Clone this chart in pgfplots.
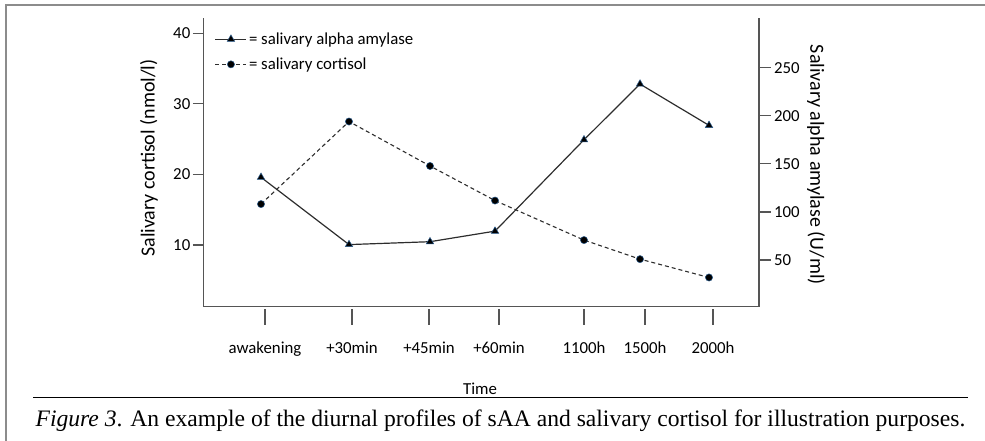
\documentclass[border=0pt]{standalone}
\usepackage{pgfplots}
\pgfplotsset{compat=1.18}
\usepackage{fontspec}
\setmainfont{Carlito}
\newfontfamily\capfont{Liberation Serif}
\definecolor{axisgray}{RGB}{85,85,85}
\definecolor{linegray}{RGB}{45,45,45}
\definecolor{markedge}{RGB}{40,90,140}
\definecolor{framegray}{RGB}{140,140,140}

% cortisol (nmol/l), left axis
\pgfplotstableread{
x   y
261 15.8
349 27.5
430 21.2
495 16.3
584 10.7
640 8.0
709 5.4
}\cortisol
% alpha amylase (U/ml), right axis
\pgfplotstableread{
x   y
261 136
349 66
430 69
495 80
584 175
640 233
709 190
}\amylase

\pgfplotsset{
  every axis/.append style={font=\fontsize{16.8}{19}\selectfont},
  amyl/.style={linegray, line width=1.2pt, mark=triangle*, mark size=4.3pt,
     mark options={solid, fill=black, draw=markedge, line width=0.5pt}},
  cort/.style={linegray, line width=1.1pt, dash pattern=on 4pt off 3pt, mark=*, mark size=3.6pt,
     mark options={solid, fill=black, draw=markedge, line width=0.5pt}},
}

\begin{document}
\begin{tikzpicture}[x=1pt,y=1pt]
\useasboundingbox (0,0) rectangle (985,441);
% frame
\draw[framegray, line width=1.5pt] (6,0) -- (6,436) -- (985,436);
% caption rule and caption
\draw[black, line width=1.4pt] (33,43.5) -- (968,43.5);
\node[anchor=center, font=\capfont\fontsize{23.6}{27}\selectfont] at (500.5,20) {{\itshape Figure 3}. An example of the diurnal profiles of sAA and salivary cortisol for illustration purposes.};

\begin{axis}[
  at={(203.3pt,134.3pt)}, anchor=south west,
  scale only axis, width=555.7pt, height=288.7pt,
  xmin=203.3, xmax=759, ymin=1.26, ymax=42.17,
  axis x line*=bottom, axis y line*=left,
  axis line style={-, axisgray, line width=1.3pt},
  tick align=outside, major tick length=10.5pt,
  tick style={axisgray, line width=1.2pt},
  x tick style={/pgfplots/major tick length=16pt, yshift=-2pt},
  xtick={265,352,429,499,584,645,713},
  xticklabels={awakening,+30min,+45min,+60min,1100h,1500h,2000h},
  xticklabel style={yshift=-21pt},
  ytick={10,20,30,40},
  /pgf/number format/assume math mode=true,
  yticklabel style={xshift=1pt},
  xlabel={Time},
  xlabel style={at={(axis description cs:0.498,-0.286)}, anchor=center},
  ylabel={Salivary cortisol (nmol/l)},
  ylabel style={at={(axis description cs:-0.0977,0.515)}, anchor=center, rotate=0, font=\fontsize{20}{23}\selectfont},
]
\addplot[cort] table[x=x,y=y] {\cortisol};
\end{axis}

\begin{axis}[
  at={(203.3pt,134.3pt)}, anchor=south west,
  scale only axis, width=555.7pt, height=288.7pt,
  xmin=203.3, xmax=759, ymin=1.4, ymax=301.7,
  axis x line=none, axis y line*=right,
  axis line style={-, axisgray, line width=1.3pt},
  tick align=outside, major tick length=11.5pt,
  tick style={axisgray, line width=1.2pt},
  ytick={50,100,150,200,250},
  /pgf/number format/assume math mode=true,
  ylabel={Salivary alpha amylase (U/ml)},
  every axis y label/.style={at={(axis description cs:1.1026,0.491)}, anchor=center, rotate=-90, font=\fontsize{20}{23}\selectfont},
  legend style={draw=none, fill=none, at={(axis description cs:0.0204,0.957)}, anchor=north west,
     inner sep=0pt, row sep=8pt, font=\fontsize{16.8}{19}\selectfont},
  legend cell align=left,
  legend image code/.code={\draw[mark repeat=2, mark phase=2, #1] plot coordinates {(0pt,0pt) (15.5pt,0pt) (31pt,0pt)};},
]
\addplot[amyl] table[x=x,y=y] {\amylase};
\addlegendentry{= salivary alpha amylase}
\addlegendimage{cort}
\addlegendentry{= salivary cortisol}
\end{axis}
\end{tikzpicture}
\end{document}
